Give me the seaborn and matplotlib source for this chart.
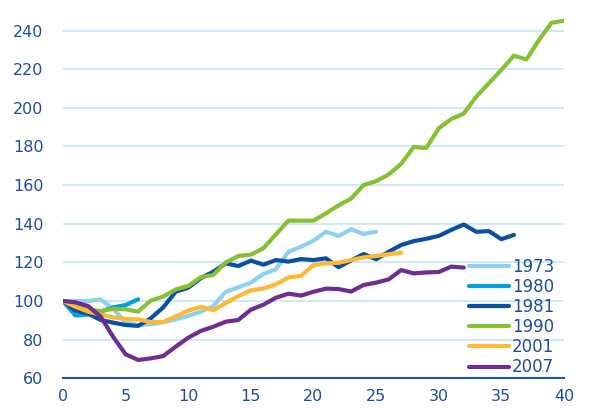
import numpy as np
import pandas as pd
import matplotlib
matplotlib.use("Agg")
import matplotlib.pyplot as plt
import seaborn as sns

s1973 = [100, 100, 100, 100.8, 96, 89, 87.5, 88, 89, 90.5, 92.3, 94.5, 97.4, 104.8, 107.1,
         109.5, 114, 116.4, 125.5, 128.1, 131.2, 135.9, 133.7, 137.1, 134.7, 135.9]
s1980 = [100, 92.5, 93, 94.5, 96.7, 97.9, 100.9]
s1981 = [100, 95, 93.5, 90.2, 88.8, 87.6, 87.1, 91, 96.7, 104.8, 106.9, 111.8, 115.2, 119.5,
         118.1, 120.9, 118.8, 121.2, 120.4, 121.7, 121.2, 122.1, 117.5, 121, 124.3, 121.6,
         125.5, 129, 131, 132.2, 133.7, 136.8, 139.6, 135.8, 136.2, 132, 134.2]
s1990 = [100, 97.5, 95.5, 94.8, 95.9, 95.7, 94.5, 100.2, 102.3, 106, 107.8, 112.3, 113.5, 120,
         123.3, 124, 127.3, 134.5, 141.6, 141.6, 141.6, 145.4, 149.5, 153, 160, 162, 165.5,
         171, 179.7, 179.2, 189.4, 194.2, 197, 205.8, 212.7, 219.6, 227, 225, 235.1, 244, 245.1]
s2001 = [100, 97, 94.5, 93, 91.6, 90.7, 90.5, 89.1, 89.1, 92, 95, 97, 95.3, 99, 102.5, 105.5,
         106.5, 108.6, 112.2, 113, 118.6, 119.5, 119.8, 121.2, 122.6, 123.3, 124.2, 125]
s2007 = [100, 99.3, 97.4, 92, 81.5, 72.4, 69.5, 70.3, 71.5, 76.4, 81, 84.5, 86.7, 89.3, 90.2,
         95.5, 98.1, 101.7, 103.8, 102.8, 104.8, 106.4, 106.2, 104.9, 108.3, 109.5, 111.2,
         116, 114.3, 114.8, 115, 117.8, 117.3]

series = {"1973": s1973, "1980": s1980, "1981": s1981,
          "1990": s1990, "2001": s2001, "2007": s2007}
palette = {"1973": "#8ED0F2", "1980": "#009FE3", "1981": "#0B4EA2",
           "1990": "#86C131", "2001": "#FDB933", "2007": "#6F2C91"}

rows = []
for name, vals in series.items():
    for i, v in enumerate(vals):
        rows.append({"t": i, "value": v, "series": name})
df = pd.DataFrame(rows)

sns.set_theme(style="white")
plt.rcParams['font.family'] = ['DejaVu Sans']
text_color = "#1F4E99"

fig = plt.figure(figsize=(5.91, 4.08), dpi=100)
ax = fig.add_axes([63/591, (408-378.3)/408, (564-63)/591, (378.3-11.2)/408])

for y in range(80, 250, 20):
    ax.axhline(y, color="#C5E6F5", lw=1.2, zorder=0)

sns.lineplot(data=df, x="t", y="value", hue="series", palette=palette,
             hue_order=list(series.keys()), linewidth=3, ax=ax, legend=True)

ax.set_xlim(0, 40)
ax.set_ylim(60, 250)
ax.set_xticks(range(0, 41, 5))
ax.set_yticks(range(60, 241, 20))
ax.set_xlabel("")
ax.set_ylabel("")
for side in ["top", "right", "left"]:
    ax.spines[side].set_visible(False)
ax.spines["bottom"].set_color("#1F5AA8")
ax.spines["bottom"].set_linewidth(1.5)
ax.tick_params(axis="x", direction="in", length=5, width=1.5, color="#1F5AA8",
               labelsize=11.5, labelcolor=text_color, pad=8)
ax.tick_params(axis="y", length=0, labelsize=11.5, labelcolor=text_color, pad=14)

leg = ax.legend(loc="lower right", bbox_to_anchor=(1.0, -0.022), frameon=False,
                fontsize=12, handlelength=2.4, handletextpad=0.15, labelspacing=0.13,
                borderaxespad=0.2)
for t in leg.get_texts():
    t.set_color(text_color)

fig.savefig("out.png", dpi=100)
